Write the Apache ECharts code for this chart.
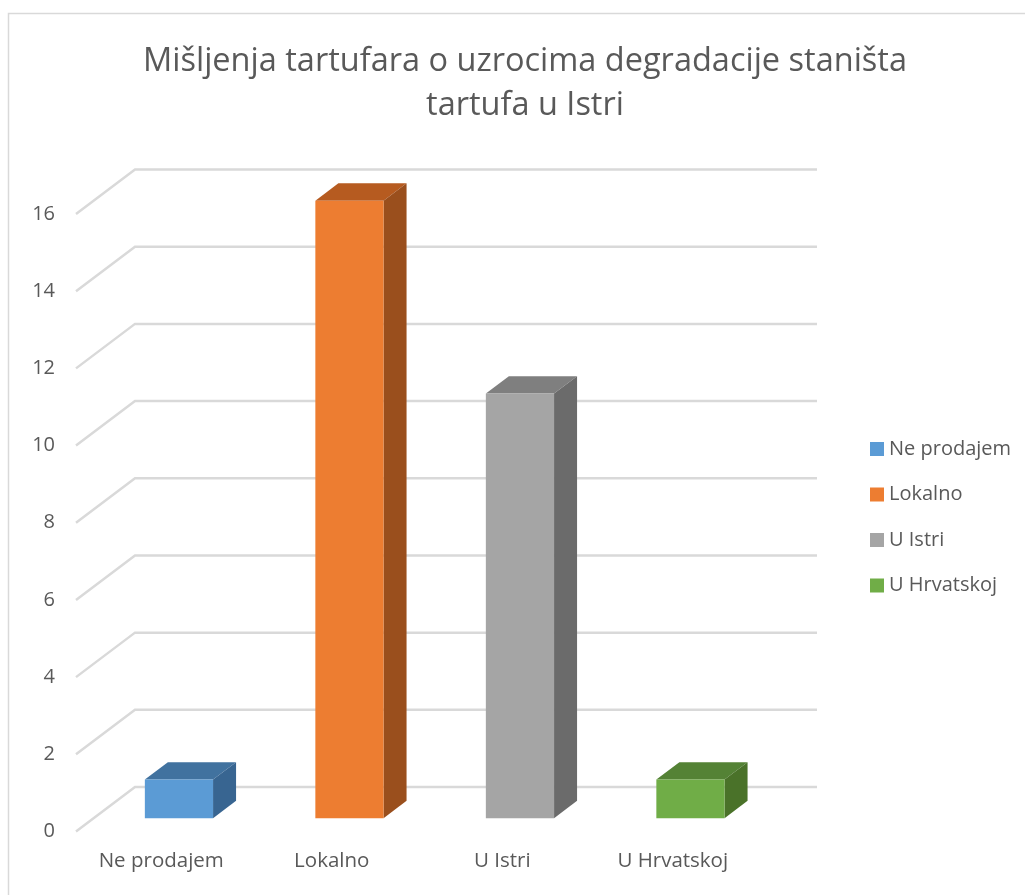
<!DOCTYPE html>
<html>
<head>
<meta charset="utf-8">
<script src="https://cdn.jsdelivr.net/npm/echarts@6/dist/echarts.min.js"></script>
<style>
  html, body { margin: 0; padding: 0; background: #fff; }
  #chart { width: 1025px; height: 895px; }
</style>
</head>
<body>
<div id="chart"></div>
<script>
// podaci
var categories = ['Ne prodajem', 'Lokalno', 'U Istri', 'U Hrvatskoj'];
var values = [1, 16, 11, 1];
var yTicks = [0, 2, 4, 6, 8, 10, 12, 14, 16];
var frontColors = ['#5b9bd5', '#ed7d31', '#a5a5a5', '#70ad47'];
var topColors = ['#41729f', '#b65b20', '#7f7f7f', '#548235'];
var sideColors = ['#386591', '#9a4f1d', '#6b6b6b', '#4a7229'];

// 3D dubina (pomak prednje ravnine prema zadnjoj)
var DX = 59, DY = -44.5;
var F1 = 0.30, F2 = 0.69;

function gridRender(params, api) {
  var y = api.coord([0, api.value(0)])[1];
  var x0 = params.coordSys.x;
  var w = params.coordSys.width;
  return {
    type: 'polyline',
    shape: { points: [[x0, y], [x0 + DX, y + DY], [x0 + DX + w, y + DY]] },
    style: { stroke: '#d9d9d9', lineWidth: 2.5, fill: null },
    silent: true
  };
}

function barRender(params, api) {
  var ci = api.value(0);
  var c = api.coord([ci, api.value(1)]);
  var c0 = api.coord([ci, 0]);
  var bw = api.size([1, 0])[0] * 0.4;
  var xl = c[0] - bw / 2 + F1 * DX, xr = xl + bw;
  var yt = c[1] + F1 * DY, yb = c0[1] + F1 * DY;
  var ddx = (F2 - F1) * DX, ddy = (F2 - F1) * DY;
  return {
    type: 'group',
    children: [
      { type: 'polygon', shape: { points: [[xl, yt], [xr, yt], [xr + ddx, yt + ddy], [xl + ddx, yt + ddy]] },
        style: { fill: topColors[ci] } },
      { type: 'polygon', shape: { points: [[xr, yt], [xr + ddx, yt + ddy], [xr + ddx, yb + ddy], [xr, yb]] },
        style: { fill: sideColors[ci] } },
      { type: 'rect', shape: { x: xl, y: yt, width: bw, height: yb - yt },
        style: { fill: frontColors[ci] } }
    ]
  };
}

var series = [{
  type: 'custom',
  name: 'grid3d',
  renderItem: gridRender,
  data: yTicks.map(function (v) { return [v]; }),
  encode: { y: 0 },
  z: 1,
  silent: true
}];
for (var i = 0; i < categories.length; i++) {
  series.push({
    type: 'custom',
    name: categories[i],
    renderItem: barRender,
    data: [[i, values[i]]],
    encode: { x: 0, y: 1 },
    itemStyle: { color: frontColors[i] },
    z: 2
  });
}

var myChart = echarts.init(document.getElementById('chart'));
myChart.setOption({
  animation: false,
  textStyle: { fontFamily: 'Open Sans' },
  title: {
    text: 'Mišljenja tartufara o uzrocima degradacije staništa\ntartufa u Istri',
    left: 520,
    top: 35,
    textAlign: 'center',
    textStyle: { fontSize: 32.5, fontWeight: 'normal', color: '#595959', lineHeight: 44, fontFamily: 'Open Sans' }
  },
  graphic: [{
    type: 'rect',
    shape: { x: 8.5, y: 13.5, width: 1100, height: 1000 },
    style: { fill: null, stroke: '#d9d9d9', lineWidth: 1.5 },
    silent: true
  }],
  legend: {
    data: categories,
    orient: 'vertical',
    left: 865,
    top: 434,
    itemWidth: 14,
    itemHeight: 14,
    itemGap: 25.5,
    icon: 'rect',
    textStyle: { fontSize: 20, color: '#595959', lineHeight: 20 }
  },
  grid: { left: 76, right: 267, top: 214, bottom: 63.5 },
  xAxis: {
    type: 'category',
    data: categories,
    axisLine: { show: false },
    axisTick: { show: false },
    axisLabel: { fontSize: 20.5, color: '#595959', margin: 19 }
  },
  yAxis: {
    type: 'value',
    min: 0,
    max: 16,
    interval: 2,
    axisLine: { show: false },
    axisTick: { show: false },
    splitLine: { show: false },
    axisLabel: { fontSize: 20, color: '#595959', margin: 21 }
  },
  series: series
});
</script>
</body>
</html>
